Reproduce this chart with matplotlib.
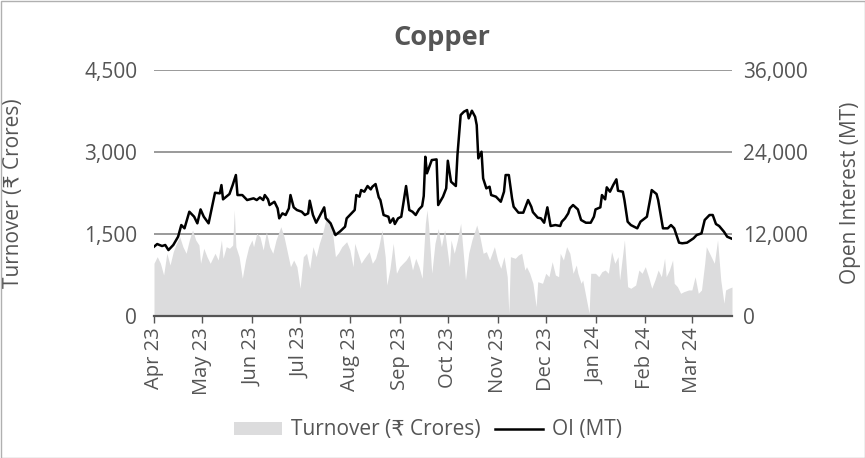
import matplotlib
matplotlib.use("Agg")
import matplotlib.pyplot as plt
import matplotlib.dates as mdates
import matplotlib.ticker as mticker
from matplotlib.patches import Rectangle
from matplotlib.lines import Line2D
import pandas as pd

oi_dates = ["2023-04-01","2023-04-03","2023-04-06","2023-04-08","2023-04-10","2023-04-13","2023-04-16","2023-04-18",
 "2023-04-20","2023-04-23","2023-04-26","2023-04-28","2023-04-30","2023-05-02","2023-05-05","2023-05-09","2023-05-12",
 "2023-05-13","2023-05-14","2023-05-18","2023-05-20","2023-05-22","2023-05-23","2023-05-26","2023-05-29","2023-06-02",
 "2023-06-04","2023-06-06","2023-06-08","2023-06-09","2023-06-11","2023-06-12","2023-06-15","2023-06-17","2023-06-18",
 "2023-06-20","2023-06-22","2023-06-24","2023-06-25","2023-06-27","2023-06-29","2023-07-02","2023-07-04","2023-07-06",
 "2023-07-07","2023-07-09","2023-07-11","2023-07-13","2023-07-16","2023-07-17","2023-07-20","2023-07-23","2023-07-26",
 "2023-07-29","2023-07-30","2023-08-02","2023-08-04","2023-08-05","2023-08-07","2023-08-08","2023-08-10","2023-08-12",
 "2023-08-14","2023-08-15","2023-08-17","2023-08-19","2023-08-20","2023-08-22","2023-08-25","2023-08-26","2023-08-28",
 "2023-08-29","2023-08-31","2023-09-02","2023-09-05","2023-09-07","2023-09-09","2023-09-11","2023-09-13","2023-09-15",
 "2023-09-16","2023-09-17","2023-09-18","2023-09-21","2023-09-24","2023-09-25","2023-09-28","2023-09-30","2023-10-01",
 "2023-10-03","2023-10-06","2023-10-07","2023-10-09","2023-10-11","2023-10-13","2023-10-14","2023-10-16","2023-10-18",
 "2023-10-19","2023-10-20","2023-10-22","2023-10-23","2023-10-25","2023-10-27","2023-10-28","2023-10-31","2023-11-03",
 "2023-11-05","2023-11-06","2023-11-08","2023-11-10","2023-11-11","2023-11-14","2023-11-17","2023-11-20","2023-11-22",
 "2023-11-23","2023-11-26","2023-11-28","2023-11-30","2023-12-02","2023-12-04","2023-12-07","2023-12-10","2023-12-11",
 "2023-12-13","2023-12-15","2023-12-16","2023-12-18","2023-12-21","2023-12-23","2023-12-26","2023-12-29","2023-12-31",
 "2024-01-01","2024-01-04","2024-01-05","2024-01-07","2024-01-08","2024-01-10","2024-01-12","2024-01-14","2024-01-15",
 "2024-01-18","2024-01-19","2024-01-21","2024-01-23","2024-01-27","2024-01-29","2024-02-02","2024-02-04","2024-02-05",
 "2024-02-08","2024-02-09","2024-02-12","2024-02-15","2024-02-17","2024-02-19","2024-02-22","2024-02-24","2024-02-27",
 "2024-03-02","2024-03-04","2024-03-07","2024-03-09","2024-03-10","2024-03-12","2024-03-14","2024-03-16","2024-03-18",
 "2024-03-21","2024-03-23","2024-03-26"]
oi_values = [10140,10530,10240,10390,9650,10390,11600,13310,
 12830,15260,14530,13560,15600,14530,13560,18040,17950,
 19160,17070,17850,19160,20630,17700,17700,16970,17220,
 16970,17360,16970,17700,17070,16240,16720,15750,14290,
 15020,14780,15750,17700,15900,15510,15260,14780,15020,
 16870,14780,13650,14530,15900,14290,13560,11850,12400,
 13070,14290,15020,15510,17700,17460,18430,18190,19020,
 18530,18920,19310,17360,16970,14780,14530,13650,14290,
 13460,14290,14530,19020,15510,15260,14780,15600,16090,
 17560,23300,20880,22820,22920,16240,17460,18680,22720,
 19650,19020,23550,29410,29890,30140,28920,30040,29160,
 27940,23070,24040,20140,18680,18920,17700,17460,16720,
 18190,20630,20630,17220,15990,15120,15120,16970,15990,
 15200,14390,14290,13650,15900,13170,13310,13170,13800,
 14290,15020,15750,16240,15600,14050,13650,13650,14530,
 15600,15900,17700,17070,18830,18190,19160,20000,18330,
 18190,16970,13800,13310,12830,13800,14530,17070,18430,
 17850,16970,12830,12830,13310,12830,10730,10640,10730,
 11360,11850,12090,14050,14290,14780,14780,13460,13170,
 12330,11600,11300]

to_dates = ["2023-04-01","2023-04-03","2023-04-05","2023-04-07","2023-04-09","2023-04-11","2023-04-13","2023-04-15",
 "2023-04-17","2023-04-19","2023-04-21","2023-04-23","2023-04-25","2023-04-27","2023-04-29","2023-04-30","2023-05-02",
 "2023-05-04","2023-05-06","2023-05-09","2023-05-11","2023-05-13","2023-05-14","2023-05-16","2023-05-18","2023-05-20",
 "2023-05-21","2023-05-22","2023-05-24","2023-05-26","2023-05-28","2023-05-30","2023-06-01","2023-06-02","2023-06-04",
 "2023-06-06","2023-06-08","2023-06-10","2023-06-12","2023-06-14","2023-06-16","2023-06-19","2023-06-21","2023-06-23",
 "2023-06-25","2023-06-27","2023-06-29","2023-07-01","2023-07-03","2023-07-05","2023-07-07","2023-07-09","2023-07-11",
 "2023-07-13","2023-07-15","2023-07-17","2023-07-19","2023-07-21","2023-07-23","2023-07-25","2023-07-27","2023-07-30",
 "2023-08-01","2023-08-03","2023-08-04","2023-08-06","2023-08-08","2023-08-10","2023-08-13","2023-08-15","2023-08-17",
 "2023-08-19","2023-08-21","2023-08-23","2023-08-24","2023-08-26","2023-08-28","2023-08-30","2023-09-01","2023-09-03",
 "2023-09-05","2023-09-07","2023-09-09","2023-09-11","2023-09-13","2023-09-15","2023-09-17","2023-09-18","2023-09-19",
 "2023-09-21","2023-09-23","2023-09-25","2023-09-27","2023-09-29","2023-10-02","2023-10-03","2023-10-05","2023-10-07",
 "2023-10-09","2023-10-11","2023-10-12","2023-10-14","2023-10-16","2023-10-19","2023-10-21","2023-10-23","2023-10-25",
 "2023-10-27","2023-10-30","2023-11-01","2023-11-03","2023-11-05","2023-11-07","2023-11-08","2023-11-09","2023-11-12",
 "2023-11-14","2023-11-16","2023-11-18","2023-11-19","2023-11-21","2023-11-23","2023-11-25","2023-11-26","2023-11-29",
 "2023-12-01","2023-12-03","2023-12-05","2023-12-07","2023-12-09","2023-12-10","2023-12-12","2023-12-14","2023-12-16",
 "2023-12-18","2023-12-20","2023-12-21","2023-12-23","2023-12-24","2023-12-26","2023-12-28","2023-12-29","2024-01-01",
 "2024-01-03","2024-01-05","2024-01-07","2024-01-09","2024-01-11","2024-01-13","2024-01-15","2024-01-16","2024-01-18",
 "2024-01-19","2024-01-21","2024-01-23","2024-01-26","2024-01-28","2024-01-30","2024-02-01","2024-02-03","2024-02-05",
 "2024-02-07","2024-02-09","2024-02-11","2024-02-13","2024-02-14","2024-02-16","2024-02-18","2024-02-19","2024-02-21",
 "2024-02-23","2024-02-25","2024-02-28","2024-03-01","2024-03-03","2024-03-05","2024-03-07","2024-03-09","2024-03-10",
 "2024-03-12","2024-03-14","2024-03-15","2024-03-17","2024-03-19","2024-03-21","2024-03-22","2024-03-24","2024-03-26"]
to_values = [964,1085,964,750,1147,933,1176,1330,
 1450,1268,1147,1390,1573,1390,1298,964,1238,
 1085,964,1147,1024,1390,1055,1268,1238,1298,
 1939,1268,1085,690,1024,1268,1390,1268,1512,
 1450,1207,1542,1268,1147,1390,1633,1450,1176,
 902,1024,902,507,1085,1147,872,1268,1085,
 1330,1512,1756,1816,1573,1085,1160,1268,1359,
 1207,902,1330,1147,964,1055,1176,964,1055,
 1268,1573,1085,567,872,1330,781,902,964,
 1024,1116,841,1055,902,690,1695,1939,1664,
 781,1330,1600,1268,1573,902,1390,1147,1390,
 1695,1024,658,1147,1390,1664,1450,1147,1176,
 1024,1268,1024,872,1085,719,49,1085,1055,
 1116,1147,841,902,780,598,170,627,598,
 781,719,993,750,719,1147,1024,1268,1147,
 781,933,781,598,658,353,49,781,781,
 719,811,841,781,1176,964,1085,658,1147,
 1390,536,507,567,841,781,902,719,507,
 658,841,719,1055,719,841,1024,598,536,
 415,445,476,476,719,415,476,964,1268,
 1147,1024,964,1390,658,232,476,507,530]

left_ticks = [0, 1500, 3000, 4500]
right_ticks = [0, 12000, 24000, 36000]

fam = ["Open Sans", "DejaVu Sans"]
plt.rcParams["font.family"] = fam
txt = "#555555"

fig = plt.figure(figsize=(8.65, 4.58), dpi=100)
ax = fig.add_axes([154/865, 1-316/458, (732-154)/865, (316-70)/458])
ax2 = ax.twinx()

td = pd.to_datetime(to_dates)
od = pd.to_datetime(oi_dates)
area_col = "#dcdcdd"
ax.fill_between(td, to_values, 0, color=area_col, lw=0, zorder=1)
ax.set_ylim(0, 4500)
ax.set_yticks(left_ticks)
ax.yaxis.set_major_formatter(mticker.FuncFormatter(lambda v, p: f"{int(v):,}"))
for t in left_ticks[1:]:
    ax.axhline(t, color="#7f7f7f", lw=1.1, zorder=0.5)

ax2.plot(od, oi_values, color="black", lw=1.8, zorder=3)
ax2.set_ylim(0, 36000)
ax2.set_yticks(right_ticks)
ax2.yaxis.set_major_formatter(mticker.FuncFormatter(lambda v, p: f"{int(v):,}"))

ax.set_xlim(td[0], td[-1])
ax.xaxis.set_major_locator(mdates.MonthLocator())
ax.xaxis.set_major_formatter(mdates.DateFormatter("%b %y"))
ax.tick_params(axis="x", rotation=90, labelsize=14.5, colors="#555555", labelcolor=txt,
               length=5, width=1, direction="out", pad=3)
ax.tick_params(axis="y", length=0, labelsize=15, labelcolor=txt, pad=12)
ax2.tick_params(axis="y", length=0, labelsize=15, labelcolor=txt, pad=8)

for a in (ax, ax2):
    for s in ("top", "left", "right", "bottom"):
        a.spines[s].set_visible(False)
ax.spines["bottom"].set_visible(True)
ax.spines["bottom"].set_color("#555555")
ax.spines["bottom"].set_linewidth(1.6)
ax.spines["bottom"].set_zorder(5)

ax.set_ylabel("Turnover (₹ Crores)", fontsize=15, color=txt)
ax2.set_ylabel("Open Interest (MT)", fontsize=15, color=txt, rotation=90)
ax.yaxis.set_label_coords(-0.225, 0.5)
ax2.yaxis.set_label_coords(1.187, 0.5)

fig.text(442/865, 1-38/458, "Copper", ha="center", va="center", fontsize=19.5,
         fontweight="bold", color="#555555")

handles = [Rectangle((0, 0), 1, 1, color=area_col, lw=0),
           Line2D([0], [0], color="black", lw=1.8)]
fig.legend(handles, ["Turnover (₹ Crores)", "OI (MT)"], loc="center",
           bbox_to_anchor=(428/865, 1-430/458), ncol=2, frameon=False,
           fontsize=15, handlelength=2.3, handleheight=0.6, columnspacing=0.7,
           handletextpad=0.45, labelcolor=txt)

fig.patches.append(Rectangle((0.5/865, 0.5/458), 1-1/865, 1-1/458, transform=fig.transFigure,
                             fill=False, edgecolor="#b0b0b0", lw=1))
fig.savefig("out.png", dpi=100)
